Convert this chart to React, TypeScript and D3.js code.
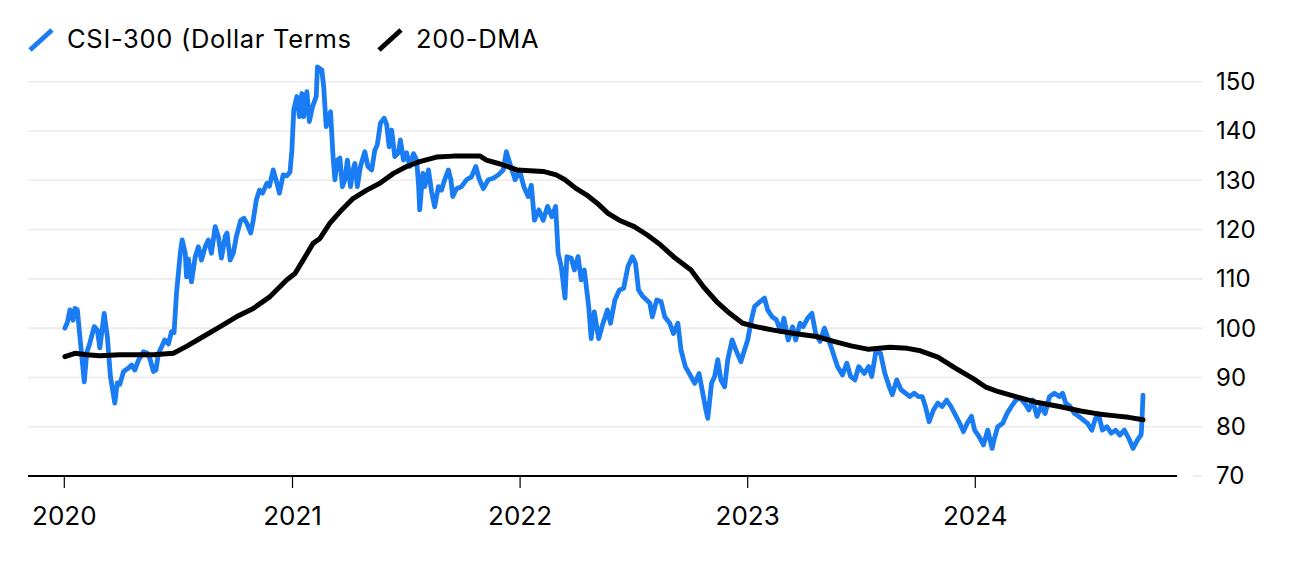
import React from "react";
import * as d3 from "d3";

// CSI-300 in dollar terms, indexed
const csiDates = [
  "2020-01-02", "2020-01-06", "2020-01-10", "2020-01-15", "2020-01-18", "2020-01-22", "2020-01-26", "2020-02-02",
  "2020-02-06", "2020-02-11", "2020-02-18", "2020-02-23", "2020-02-27", "2020-03-01", "2020-03-05", "2020-03-10",
  "2020-03-15", "2020-03-22", "2020-03-26", "2020-03-30", "2020-04-05", "2020-04-13", "2020-04-18", "2020-04-23",
  "2020-04-29", "2020-05-07", "2020-05-13", "2020-05-17", "2020-05-23", "2020-05-27", "2020-05-31", "2020-06-05",
  "2020-06-10", "2020-06-16", "2020-06-21", "2020-06-25", "2020-06-29", "2020-07-05", "2020-07-08", "2020-07-13",
  "2020-07-15", "2020-07-18", "2020-07-23", "2020-07-29", "2020-08-03", "2020-08-08", "2020-08-14", "2020-08-19",
  "2020-08-24", "2020-08-30", "2020-09-04", "2020-09-09", "2020-09-15", "2020-09-18", "2020-09-23", "2020-09-28",
  "2020-10-03", "2020-10-10", "2020-10-15", "2020-10-20", "2020-10-26", "2020-10-30", "2020-11-04", "2020-11-09",
  "2020-11-14", "2020-11-21", "2020-11-25", "2020-12-01", "2020-12-07", "2020-12-11", "2020-12-17", "2020-12-23",
  "2020-12-28", "2020-12-31", "2021-01-03", "2021-01-08", "2021-01-12", "2021-01-16", "2021-01-19", "2021-01-24",
  "2021-01-28", "2021-02-02", "2021-02-08", "2021-02-10", "2021-02-17", "2021-02-20", "2021-02-24", "2021-02-27",
  "2021-03-03", "2021-03-07", "2021-03-10", "2021-03-14", "2021-03-18", "2021-03-22", "2021-03-26", "2021-03-30",
  "2021-04-04", "2021-04-08", "2021-04-11", "2021-04-15", "2021-04-20", "2021-04-27", "2021-05-02", "2021-05-08",
  "2021-05-13", "2021-05-17", "2021-05-22", "2021-05-28", "2021-06-01", "2021-06-05", "2021-06-09", "2021-06-14",
  "2021-06-20", "2021-06-23", "2021-06-28", "2021-07-03", "2021-07-08", "2021-07-14", "2021-07-19", "2021-07-22",
  "2021-07-24", "2021-07-29", "2021-08-01", "2021-08-07", "2021-08-12", "2021-08-17", "2021-08-23", "2021-08-28",
  "2021-09-02", "2021-09-08", "2021-09-12", "2021-09-15", "2021-09-21", "2021-09-29", "2021-10-07", "2021-10-15",
  "2021-10-22", "2021-10-27", "2021-11-03", "2021-11-11", "2021-11-19", "2021-11-27", "2021-12-05", "2021-12-10",
  "2021-12-17", "2021-12-24", "2021-12-31", "2022-01-07", "2022-01-14", "2022-01-19", "2022-01-24", "2022-01-31",
  "2022-02-07", "2022-02-14", "2022-02-21", "2022-02-27", "2022-03-03", "2022-03-08", "2022-03-14", "2022-03-17",
  "2022-03-24", "2022-03-29", "2022-04-04", "2022-04-09", "2022-04-14", "2022-04-21", "2022-04-25", "2022-04-30",
  "2022-05-07", "2022-05-14", "2022-05-21", "2022-05-26", "2022-06-02", "2022-06-09", "2022-06-16", "2022-06-23",
  "2022-06-30", "2022-07-05", "2022-07-10", "2022-07-17", "2022-07-28", "2022-08-01", "2022-08-08", "2022-08-15",
  "2022-08-21", "2022-08-29", "2022-09-04", "2022-09-11", "2022-09-16", "2022-09-23", "2022-10-02", "2022-10-08",
  "2022-10-15", "2022-10-21", "2022-10-26", "2022-10-29", "2022-11-04", "2022-11-09", "2022-11-14", "2022-11-19",
  "2022-11-25", "2022-11-30", "2022-12-07", "2022-12-13", "2022-12-21", "2022-12-27", "2023-01-01", "2023-01-07",
  "2023-01-12", "2023-01-21", "2023-01-28", "2023-02-02", "2023-02-09", "2023-02-16", "2023-02-23", "2023-02-28",
  "2023-03-07", "2023-03-14", "2023-03-19", "2023-03-26", "2023-03-31", "2023-04-07", "2023-04-14", "2023-04-20",
  "2023-04-27", "2023-05-04", "2023-05-11", "2023-05-18", "2023-05-25", "2023-06-02", "2023-06-09", "2023-06-15",
  "2023-06-22", "2023-06-28", "2023-07-07", "2023-07-14", "2023-07-19", "2023-07-26", "2023-08-02", "2023-08-09",
  "2023-08-16", "2023-08-21", "2023-08-28", "2023-09-04", "2023-09-11", "2023-09-18", "2023-09-25", "2023-10-02",
  "2023-10-08", "2023-10-13", "2023-10-19", "2023-10-26", "2023-11-02", "2023-11-09", "2023-11-16", "2023-11-23",
  "2023-11-30", "2023-12-07", "2023-12-13", "2023-12-19", "2023-12-26", "2023-12-31", "2024-01-07", "2024-01-14",
  "2024-01-21", "2024-01-28", "2024-01-31", "2024-02-06", "2024-02-14", "2024-02-21", "2024-02-28", "2024-03-06",
  "2024-03-13", "2024-03-20", "2024-03-27", "2024-04-02", "2024-04-09", "2024-04-15", "2024-04-22", "2024-04-29",
  "2024-05-07", "2024-05-15", "2024-05-20", "2024-05-25", "2024-06-01", "2024-06-08", "2024-06-15", "2024-06-22",
  "2024-06-29", "2024-07-06", "2024-07-11", "2024-07-16", "2024-07-23", "2024-07-30", "2024-08-06", "2024-08-13",
  "2024-08-20", "2024-08-27", "2024-09-03", "2024-09-10", "2024-09-17", "2024-09-23", "2024-09-24", "2024-09-26",
];
const csiValues = [
  100, 101.2, 103.7, 101.6, 104, 103.7, 98.3, 89.1,
  95, 97, 100.3, 99.6, 96, 99, 103, 98.3,
  90.2, 84.8, 88.9, 88.6, 91.2, 91.9, 92.5, 91.5,
  93.5, 95.2, 94.9, 93.9, 91.2, 91.5, 94.9, 96.2,
  97.6, 96.8, 99.3, 99.1, 107.1, 115.2, 117.9, 115.2,
  110.4, 114, 109.4, 114.5, 116.5, 113.8, 116.5, 117.9,
  115.2, 120.6, 118.6, 114.2, 118.6, 119.3, 113.8, 115.2,
  118.6, 121.9, 122.3, 121.2, 119.3, 121.9, 126, 128,
  127.4, 129.4, 128.8, 132.1, 129.4, 127.4, 131.1, 130.9,
  131.7, 136.1, 144.3, 147, 142.9, 147.6, 142.9, 148,
  141.9, 144.9, 147, 153, 152.4, 149, 140.9, 142.2,
  143.9, 134.8, 130.1, 134.1, 134.5, 128.7, 130.1, 134.1,
  128.7, 132.1, 133.4, 128.7, 132.8, 135.8, 132.8, 132.1,
  136.1, 137.2, 141.6, 142.6, 141.3, 136.8, 140.2, 134.8,
  135.6, 138.2, 134.1, 135.6, 132.8, 135.4, 134.1, 129.4,
  124, 131.4, 128.7, 132.1, 127.7, 124.6, 128.7, 128,
  130.1, 132.1, 130.1, 126.7, 128.3, 128.7, 130.1, 130.7,
  132.8, 130.4, 128.3, 130.1, 130.4, 131.1, 132.1, 135.8,
  132.8, 130.1, 132.1, 128.7, 126.7, 129, 121.9, 124,
  121.9, 124.7, 122.6, 124.7, 115.2, 112.5, 106.1, 114.5,
  114.2, 111.8, 114.5, 109.8, 111.8, 104.4, 97.9, 103.3,
  97.9, 101, 103.7, 101, 105.7, 107.7, 108.1, 112.5,
  114.5, 113.2, 107.7, 106.4, 105.1, 102.3, 105.7, 105.4,
  102.3, 101, 98.9, 101, 95.6, 92.2, 90.2, 88.8,
  90.8, 86.8, 83.4, 81.7, 88.8, 90.2, 93.6, 89.5,
  88.1, 93.6, 97.6, 95.6, 93.2, 95.6, 97.6, 101.7,
  104.4, 105.4, 106.1, 103.7, 102.3, 101.7, 99.3, 102,
  97.6, 100.3, 97.6, 101, 100.3, 102, 103, 98.9,
  97.3, 100, 97.6, 94.9, 92.2, 90.5, 92.9, 90.2,
  89.5, 92.2, 90.8, 92.2, 90.2, 95.6, 94.9, 90.8,
  88.1, 86.5, 89.5, 87.5, 86.8, 86.1, 86.8, 86.1,
  86.1, 84.1, 81, 83.4, 84.8, 84.1, 85.4, 84.1,
  82.4, 80.7, 79, 80.7, 82.1, 79.3, 78, 76.3,
  79.3, 75.6, 77.3, 80, 80.7, 82.7, 84.1, 85.4,
  85.8, 84.8, 83.4, 85.4, 82.1, 84.1, 82.7, 86.1,
  86.8, 86.1, 86.8, 84.8, 84.1, 82.7, 82.1, 81.4,
  80.7, 79.3, 81.4, 82.7, 79.3, 80, 78.7, 79.3,
  78.3, 79.3, 77.7, 75.6, 77.3, 78.4, 80.5, 86.4,
];

// 200-day moving average
const dmaDates = [
  "2020-01-02", "2020-01-18", "2020-02-06", "2020-02-27", "2020-03-30", "2020-04-26", "2020-05-23", "2020-06-24",
  "2020-07-15", "2020-08-11", "2020-09-07", "2020-10-03", "2020-10-30", "2020-11-26", "2020-12-23", "2021-01-05",
  "2021-01-18", "2021-02-03", "2021-02-14", "2021-03-02", "2021-03-18", "2021-04-08", "2021-04-30", "2021-05-21",
  "2021-06-12", "2021-07-03", "2021-07-24", "2021-08-20", "2021-09-16", "2021-10-29", "2021-11-08", "2021-11-30",
  "2021-12-27", "2022-02-07", "2022-02-28", "2022-03-14", "2022-03-31", "2022-04-18", "2022-05-05", "2022-05-22",
  "2022-06-09", "2022-07-03", "2022-07-24", "2022-08-14", "2022-09-04", "2022-10-02", "2022-10-22", "2022-11-12",
  "2022-12-03", "2022-12-24", "2023-01-14", "2023-02-11", "2023-03-17", "2023-04-21", "2023-05-19", "2023-06-16",
  "2023-07-14", "2023-08-17", "2023-09-14", "2023-10-05", "2023-11-02", "2023-11-30", "2023-12-28", "2024-01-17",
  "2024-02-07", "2024-03-06", "2024-04-10", "2024-05-15", "2024-06-18", "2024-07-16", "2024-08-13", "2024-09-03",
  "2024-09-26",
];
const dmaValues = [
  94.2, 94.9, 94.6, 94.4, 94.6, 94.6, 94.6, 94.9,
  96.3, 98.3, 100.3, 102.3, 104, 106.4, 109.8, 111.1,
  113.8, 117.2, 118.2, 121.3, 123.6, 126.3, 128, 129.4,
  131.4, 132.8, 133.8, 134.7, 134.9, 134.9, 134.1, 133.3,
  132.1, 131.8, 131.1, 130.1, 128.4, 127, 125.3, 123.3,
  121.9, 120.6, 118.9, 116.9, 114.5, 111.8, 108.4, 105.4,
  103, 101, 100.3, 99.6, 98.9, 98.3, 97.3, 96.4,
  95.7, 96.1, 95.9, 95.4, 94.1, 91.9, 89.8, 88.1,
  87.1, 86.1, 84.9, 84.1, 83.2, 82.6, 82.2, 81.9,
  81.4,
];

const yTicks = [70, 80, 90, 100, 110, 120, 130, 140, 150];
const xTickYears = [2020, 2021, 2022, 2023, 2024];
const legendLabels = ["CSI-300 (Dollar Terms", "200-DMA"];

const BLUE = "#1a7cf2";
const FONT = "Inter, 'Liberation Sans', Arial, sans-serif";

const parse = d3.utcParse("%Y-%m-%d");

export default function App() {
  const width = 1296;
  const height = 576;

  const x = d3.scaleUtc()
    .domain([new Date(Date.UTC(2020, 0, 1)), new Date(Date.UTC(2025, 0, 1))])
    .range([64.3, 1203.5]);
  const y = d3.scaleLinear().domain([70, 150]).range([476, 81.7]);

  const csi = csiDates.map((d, i) => ({date: parse(d) as Date, value: csiValues[i]}));
  const dma = dmaDates.map((d, i) => ({date: parse(d) as Date, value: dmaValues[i]}));

  const line = d3.line<{date: Date, value: number}>()
    .x(d => x(d.date))
    .y(d => y(d.value));

  const gridLeft = 28;
  const gridRight = 1203;
  const axisRight = 1177;

  return (
    <svg width={width} height={height}
         style={{position: "absolute", left: 0, top: 0, background: "#fff"}}
         fontFamily={FONT}>
      {/* legend */}
      <g>
        <line x1={30} y1={50} x2={52} y2={30} stroke={BLUE} strokeWidth={5}/>
        <text x={67} y={47.5} fontSize={25.5} letterSpacing={0.7} fill="#000">{legendLabels[0]}</text>
        <line x1={379} y1={50} x2={401} y2={30} stroke="#000" strokeWidth={5}/>
        <text x={416} y={47.5} fontSize={25.5} letterSpacing={0.7} fill="#000">{legendLabels[1]}</text>
      </g>

      {/* gridlines */}
      {yTicks.filter(t => t > 70).map(t => (
        <line key={t} x1={gridLeft} x2={gridRight} y1={y(t)} y2={y(t)} stroke="#ebebeb" strokeWidth={1.6}/>
      ))}
      <line x1={axisRight + 16} x2={gridRight} y1={y(70)} y2={y(70)} stroke="#ebebeb" strokeWidth={1.6}/>

      {/* y labels */}
      {yTicks.map(t => (
        <text key={t} x={1216} y={y(t)} dy="0.35em" fontSize={24} fill="#000">{t}</text>
      ))}

      {/* series */}
      <path d={line(csi) || ""} fill="none" stroke={BLUE} strokeWidth={4.8}
            strokeLinejoin="round" strokeLinecap="round"/>
      <path d={line(dma) || ""} fill="none" stroke="#000" strokeWidth={5}
            strokeLinejoin="round" strokeLinecap="round"/>

      {/* x axis */}
      <line x1={gridLeft} x2={axisRight} y1={y(70)} y2={y(70)} stroke="#000" strokeWidth={2}/>
      {xTickYears.map(yr => {
        const px = x(new Date(Date.UTC(yr, 0, 1)));
        return (
          <g key={yr}>
            <line x1={px} x2={px} y1={y(70)} y2={y(70) + 12} stroke="#000" strokeWidth={1.2}/>
            <text x={px} y={525} textAnchor="middle" fontSize={26} fill="#000">{yr}</text>
          </g>
        );
      })}
    </svg>
  );
}
